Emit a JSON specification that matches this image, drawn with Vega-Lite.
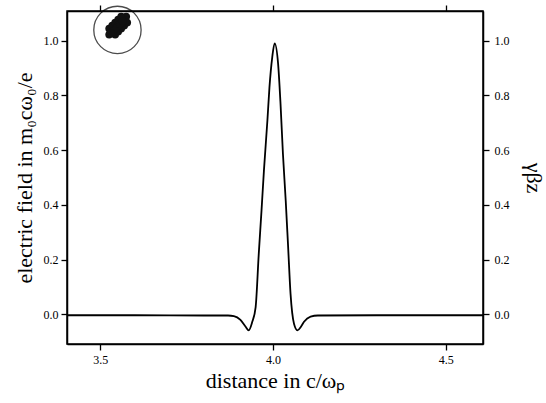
{
  "$schema": "https://vega.github.io/schema/vega-lite/v6.json",
  "width": 416,
  "height": 333,
  "autosize": "none",
  "padding": {"left": 67, "top": 11, "right": 63, "bottom": 59},
  "background": "white",
  "config": {
    "view": {"stroke": "black", "strokeWidth": 1.5},
    "font": "Liberation Serif",
    "axis": {
      "labelFont": "Liberation Serif",
      "titleFont": "Liberation Serif",
      "labelColor": "black",
      "titleColor": "black",
      "tickColor": "black",
      "domainColor": "black",
      "labelFontSize": 12,
      "titleFontSize": 22,
      "titleFontWeight": "normal",
      "grid": false,
      "tickSize": 6,
      "tickWidth": 1.3,
      "domainWidth": 1.5
    }
  },
  "datasets": {
    "field": [
      {"x": 3.404, "y": -0.003}, {"x": 3.6, "y": -0.003}, {"x": 3.8, "y": -0.004},
      {"x": 3.87, "y": -0.004}, {"x": 3.887, "y": -0.006}, {"x": 3.906, "y": -0.02},
      {"x": 3.921, "y": -0.045}, {"x": 3.93, "y": -0.058}, {"x": 3.94, "y": -0.028},
      {"x": 3.95, "y": 0.027}, {"x": 3.959, "y": 0.221}, {"x": 3.967, "y": 0.38},
      {"x": 3.974, "y": 0.526}, {"x": 3.984, "y": 0.708}, {"x": 3.99, "y": 0.83},
      {"x": 3.998, "y": 0.939}, {"x": 4.005, "y": 0.99}, {"x": 4.015, "y": 0.915},
      {"x": 4.022, "y": 0.769}, {"x": 4.029, "y": 0.586}, {"x": 4.037, "y": 0.416},
      {"x": 4.044, "y": 0.246}, {"x": 4.051, "y": 0.075}, {"x": 4.061, "y": -0.034},
      {"x": 4.071, "y": -0.058}, {"x": 4.081, "y": -0.045}, {"x": 4.09, "y": -0.027},
      {"x": 4.109, "y": -0.008}, {"x": 4.13, "y": -0.004}, {"x": 4.3, "y": -0.003},
      {"x": 4.608, "y": -0.003}
    ],
    "ring": [{"x": 3.55, "y": 1.039}],
    "blob": [
      {"x": 3.5261, "y": 1.0219}, {"x": 3.5348, "y": 1.0328}, {"x": 3.5434, "y": 1.0438},
      {"x": 3.5521, "y": 1.0547}, {"x": 3.5608, "y": 1.0657}, {"x": 3.5695, "y": 1.0766},
      {"x": 3.5753, "y": 1.0876},
      {"x": 3.5434, "y": 1.0219}, {"x": 3.5521, "y": 1.0328},
      {"x": 3.5608, "y": 1.0438}, {"x": 3.5695, "y": 1.0547}, {"x": 3.5782, "y": 1.0657},
      {"x": 3.5261, "y": 1.0438}, {"x": 3.5348, "y": 1.0547},
      {"x": 3.5434, "y": 1.0657}, {"x": 3.5521, "y": 1.0766}, {"x": 3.5608, "y": 1.0876},
      {"x": 3.539, "y": 1.038}, {"x": 3.548, "y": 1.049}, {"x": 3.557, "y": 1.060},
      {"x": 3.531, "y": 1.028}, {"x": 3.565, "y": 1.071}
    ]
  },
  "layer": [
    {
      "data": {"name": "field"},
      "mark": {"type": "line", "color": "black", "strokeWidth": 1.8, "interpolate": "monotone"},
      "encoding": {
        "x": {"field": "x", "type": "quantitative",
              "scale": {"domain": [3.404, 4.608], "nice": false, "zero": false},
              "axis": {"values": [3.5, 4.0, 4.5], "format": ".1f", "title": "distance in c/ωₚ", "titlePadding": 5, "labelPadding": 4}},
        "y": {"field": "y", "type": "quantitative",
              "scale": {"domain": [-0.108, 1.108], "nice": false, "zero": false},
              "axis": {"values": [0, 0.2, 0.4, 0.6, 0.8, 1.0], "format": ".1f", "title": "electric field in m₀cω₀/e", "titlePadding": 7, "labelPadding": 3}}
      }
    },
    {
      "data": {"name": "ring"},
      "mark": {"type": "point", "shape": "circle", "filled": false, "color": "black", "strokeWidth": 1.3, "size": 2240},
      "encoding": {
        "x": {"field": "x", "type": "quantitative", "scale": {"domain": [3.404, 4.608], "nice": false, "zero": false},
              "axis": {"orient": "top", "values": [3.5, 4.0, 4.5], "labels": false, "title": null}},
        "y": {"field": "y", "type": "quantitative",
              "scale": {"domain": [-0.108, 1.108], "nice": false, "zero": false},
              "axis": {"orient": "right", "values": [0, 0.2, 0.4, 0.6, 0.8, 1.0], "format": ".1f", "title": "γβz", "titlePadding": 12, "labelPadding": 5, "titleAngle": 90}}
      }
    },
    {
      "data": {"name": "blob"},
      "mark": {"type": "point", "shape": "circle", "filled": true, "color": "#111", "opacity": 1, "size": 60},
      "encoding": {
        "x": {"field": "x", "type": "quantitative", "scale": {"domain": [3.404, 4.608], "nice": false, "zero": false}, "axis": null},
        "y": {"field": "y", "type": "quantitative", "scale": {"domain": [-0.108, 1.108], "nice": false, "zero": false}, "axis": null}
      }
    }
  ],
  "resolve": {"scale": {"x": "independent", "y": "independent"}, "axis": {"x": "independent", "y": "independent"}}
}
